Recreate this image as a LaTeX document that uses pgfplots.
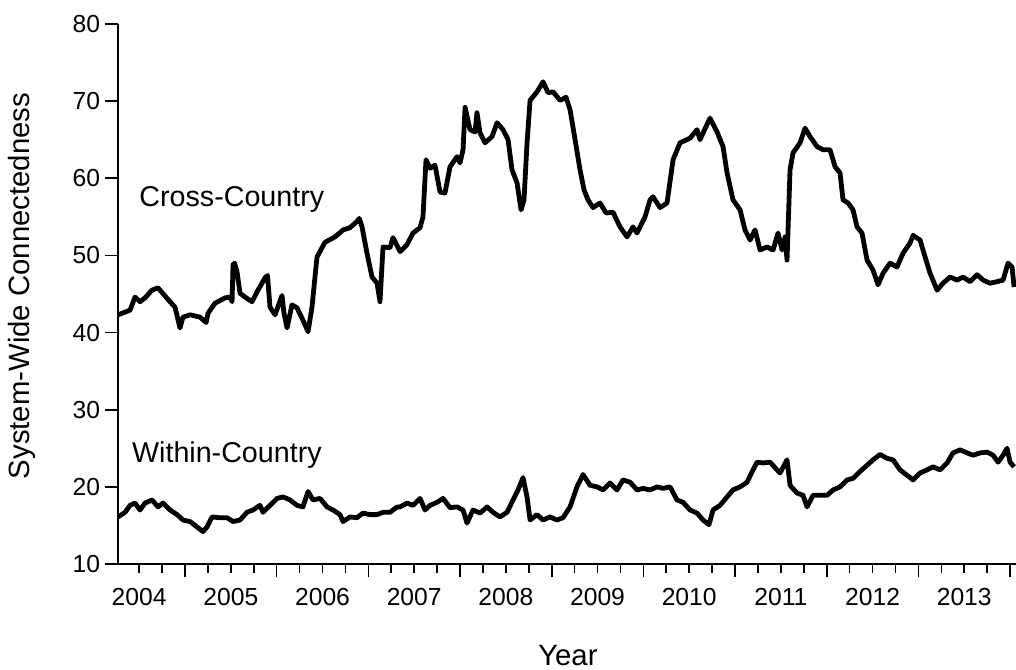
\documentclass[border=0pt]{standalone}
\usepackage{fontspec}
\setmainfont{Liberation Sans}
\usepackage{pgfplots}
\usepackage{pgfplotstable}
\pgfplotsset{compat=1.18}

\pgfplotstableread{
x y
2004.269 42.3
2004.400 42.9
2004.455 44.6
2004.509 44.0
2004.564 44.5
2004.640 45.5
2004.706 45.8
2004.836 44.0
2004.891 43.3
2004.945 40.6
2004.978 42.0
2005.055 42.3
2005.164 42.0
2005.230 41.3
2005.251 42.5
2005.327 43.8
2005.437 44.5
2005.491 44.6
2005.513 44.0
2005.524 48.8
2005.540 49.0
2005.567 47.9
2005.600 45.1
2005.655 44.6
2005.731 44.0
2005.796 45.5
2005.873 47.1
2005.900 47.4
2005.927 43.3
2005.982 42.3
2006.058 44.8
2006.080 42.5
2006.113 40.6
2006.167 43.6
2006.222 43.2
2006.287 41.6
2006.342 40.1
2006.385 43.3
2006.440 49.8
2006.527 51.7
2006.636 52.4
2006.724 53.3
2006.800 53.6
2006.876 54.4
2006.900 54.8
2006.931 53.7
2006.985 50.3
2007.040 47.2
2007.095 46.4
2007.127 44.0
2007.160 51.1
2007.236 51.0
2007.269 52.3
2007.346 50.5
2007.422 51.4
2007.487 52.9
2007.564 53.6
2007.596 55.0
2007.629 62.4
2007.673 61.3
2007.727 61.7
2007.782 58.2
2007.836 58.1
2007.891 61.5
2007.967 62.8
2008.000 62.0
2008.033 63.7
2008.055 69.2
2008.109 66.3
2008.164 66.0
2008.185 68.5
2008.218 65.9
2008.273 64.6
2008.349 65.4
2008.404 67.2
2008.469 66.3
2008.524 65.0
2008.567 61.1
2008.622 59.4
2008.666 55.9
2008.698 57.2
2008.731 64.6
2008.764 70.1
2008.840 71.2
2008.906 72.5
2008.960 71.1
2009.015 71.2
2009.091 70.1
2009.156 70.5
2009.200 68.9
2009.255 65.0
2009.309 61.1
2009.353 58.5
2009.396 57.2
2009.451 56.2
2009.527 56.8
2009.593 55.5
2009.669 55.6
2009.745 53.7
2009.822 52.4
2009.887 53.7
2009.931 52.9
2010.018 55.0
2010.073 57.2
2010.105 57.6
2010.182 56.2
2010.258 56.8
2010.324 62.4
2010.400 64.6
2010.509 65.2
2010.585 66.3
2010.618 65.0
2010.695 67.0
2010.727 67.8
2010.804 66.0
2010.869 64.1
2010.913 60.7
2010.978 57.2
2011.055 55.9
2011.109 53.3
2011.164 52.0
2011.218 53.3
2011.273 50.7
2011.349 51.1
2011.415 50.7
2011.469 52.9
2011.513 50.7
2011.546 52.4
2011.567 49.4
2011.600 61.1
2011.633 63.3
2011.709 64.6
2011.764 66.5
2011.818 65.4
2011.895 64.1
2011.960 63.7
2012.036 63.7
2012.091 61.5
2012.145 60.7
2012.178 57.2
2012.233 56.8
2012.287 55.9
2012.331 53.7
2012.385 52.9
2012.440 49.4
2012.505 48.1
2012.560 46.2
2012.615 47.7
2012.691 49.0
2012.767 48.5
2012.833 50.3
2012.909 51.6
2012.942 52.6
2013.018 52.0
2013.073 49.8
2013.127 47.7
2013.204 45.5
2013.269 46.4
2013.346 47.2
2013.422 46.8
2013.487 47.2
2013.564 46.6
2013.640 47.5
2013.706 46.8
2013.782 46.4
2013.858 46.6
2013.924 46.8
2013.978 49.0
2014.022 48.5
2014.044 45.9
}\cross

\pgfplotstableread{
x y
2004.269 16.1
2004.346 16.7
2004.400 17.6
2004.455 17.9
2004.509 17.0
2004.564 17.9
2004.640 18.3
2004.706 17.4
2004.760 17.9
2004.836 17.0
2004.913 16.4
2004.978 15.7
2005.055 15.5
2005.131 14.8
2005.196 14.2
2005.240 14.8
2005.295 16.1
2005.382 16.0
2005.458 16.0
2005.524 15.5
2005.600 15.7
2005.676 16.7
2005.742 17.0
2005.818 17.6
2005.851 16.7
2005.927 17.6
2006.004 18.5
2006.069 18.7
2006.145 18.3
2006.222 17.6
2006.287 17.4
2006.342 19.4
2006.396 18.3
2006.473 18.5
2006.549 17.4
2006.615 17.0
2006.691 16.4
2006.724 15.5
2006.800 16.1
2006.876 16.0
2006.942 16.6
2007.018 16.4
2007.095 16.4
2007.160 16.7
2007.236 16.7
2007.269 17.0
2007.313 17.4
2007.346 17.4
2007.422 17.9
2007.487 17.6
2007.564 18.5
2007.618 17.0
2007.673 17.6
2007.749 18.0
2007.815 18.5
2007.891 17.3
2007.967 17.4
2008.033 17.0
2008.076 15.3
2008.142 17.0
2008.218 16.6
2008.295 17.4
2008.360 16.7
2008.436 16.1
2008.513 16.7
2008.578 18.3
2008.633 19.6
2008.687 21.2
2008.731 18.7
2008.764 15.7
2008.840 16.4
2008.906 15.7
2008.982 16.1
2009.058 15.7
2009.124 16.0
2009.200 17.4
2009.276 20.0
2009.342 21.6
2009.418 20.2
2009.495 20.0
2009.560 19.6
2009.636 20.5
2009.713 19.6
2009.778 20.9
2009.855 20.6
2009.931 19.6
2009.996 19.8
2010.073 19.6
2010.149 20.0
2010.215 19.8
2010.291 20.0
2010.367 18.3
2010.433 18.0
2010.509 17.0
2010.585 16.6
2010.651 15.7
2010.716 15.1
2010.760 17.0
2010.836 17.6
2010.913 18.7
2010.978 19.6
2011.055 20.0
2011.131 20.6
2011.196 22.2
2011.240 23.2
2011.305 23.1
2011.382 23.2
2011.458 22.2
2011.491 21.8
2011.567 23.5
2011.600 20.2
2011.676 19.2
2011.742 18.9
2011.785 17.4
2011.851 18.9
2011.927 18.9
2012.004 18.9
2012.069 19.6
2012.145 20.0
2012.222 20.9
2012.287 21.1
2012.364 22.0
2012.440 22.8
2012.505 23.5
2012.582 24.2
2012.658 23.7
2012.724 23.5
2012.800 22.2
2012.876 21.5
2012.942 20.9
2013.018 21.8
2013.095 22.2
2013.160 22.6
2013.236 22.2
2013.313 23.1
2013.378 24.4
2013.455 24.8
2013.531 24.4
2013.596 24.1
2013.673 24.4
2013.749 24.5
2013.815 24.1
2013.869 23.2
2013.924 24.1
2013.967 25.0
2014.000 23.2
2014.044 22.6
}\within

\begin{document}
\begin{tikzpicture}
\begin{axis}[
  at={(0,0)}, anchor=south west,
  scale only axis, width=673.5pt, height=405pt,
  xmin=2004.269, xmax=2014.065, ymin=10, ymax=80,
  axis lines=left, axis line style={line width=1.6pt, -},
  /pgf/number format/assume math mode=true,
  ytick={10,20,30,40,50,60,70,80},
  xtick={2005,2006,2007,2008,2009,2010,2011,2012,2013,2014},
  xticklabels={},
  minor xtick={2004.25,2004.5,...,2014},
  extra x ticks={2004.5,2005.5,2006.5,2007.5,2008.5,2009.5,2010.5,2011.5,2012.5,2013.5},
  extra x tick labels={2004,2005,2006,2007,2008,2009,2010,2011,2012,2013},
  extra x tick style={major tick length=0pt, xticklabel style={yshift=-15pt}},
  tick align=outside,
  major tick length=10pt, minor tick length=6.5pt,
  every tick/.style={black, line width=1.2pt},
  ticklabel style={font=\fontsize{18.5}{20}\selectfont},
  xlabel={Year}, ylabel={System-Wide Connectedness},
  label style={font=\fontsize{22}{24}\selectfont},
  xlabel style={at={(axis description cs:0.501,-0.188)}, anchor=base, inner sep=0pt},
  ylabel style={at={(axis description cs:-0.107,0.515)}, anchor=center},
]
\addplot[black, line width=3.6pt, line join=round] table {\cross};
\addplot[black, line width=3.6pt, line join=round] table {\within};
\node[anchor=base west, inner sep=0pt, font=\fontsize{21.5}{23}\selectfont] at (axis cs:2004.50,56.3) {Cross-Country};
\node[anchor=base west, inner sep=0pt, font=\fontsize{21.5}{23}\selectfont] at (axis cs:2004.42,23.2) {Within-Country};
\end{axis}
\pgfresetboundingbox
\path[use as bounding box] (-88.5pt,-79.5pt) rectangle (673.5pt,423pt);
\end{tikzpicture}
\end{document}
